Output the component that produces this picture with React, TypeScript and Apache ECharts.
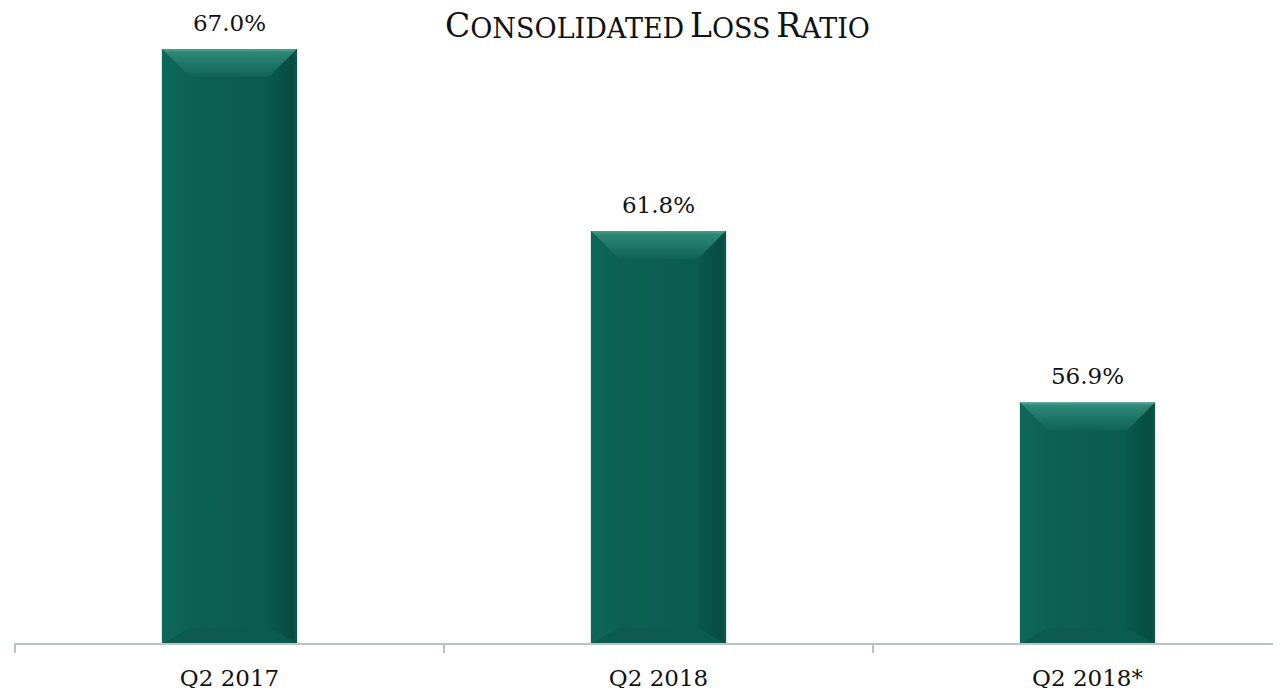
import React, { useEffect, useRef } from "react";
import * as echarts from "echarts";

const categories = ["Q2 2017", "Q2 2018", "Q2 2018*"];
const lossRatio = [67.0, 61.8, 56.9];
const yMin = 50;
const yMax = 68;

const FONT = "'DejaVu Serif', 'Liberation Serif', serif";

export default function App() {
  const ref = useRef<HTMLDivElement>(null);
  useEffect(() => {
    if (!ref.current) return;
    const chart = echarts.init(ref.current, undefined, { renderer: "svg" });
    const option: any = {
      animation: false,
      backgroundColor: "#ffffff",
      title: {
        left: 440,
        top: -1,
        text: "{b|C}{s|ONSOLIDATED} {b|L}{s|OSS} {b|R}{s|ATIO}",
        textStyle: {
          fontFamily: FONT,
          fontWeight: "normal",
          color: "#111111",
          rich: {
            b: { fontSize: 33, fontFamily: FONT, color: "#111111", verticalAlign: "bottom", lineHeight: 38 },
            s: { fontSize: 27, fontFamily: FONT, color: "#111111", verticalAlign: "bottom", lineHeight: 38 },
          },
        },
      },
      grid: { left: 15, right: 8, top: 14, bottom: 52, containLabel: false },
      xAxis: {
        type: "category",
        data: categories,
        boundaryGap: true,
        axisLine: { show: true, lineStyle: { color: "#b9c5c1", width: 2 } },
        axisTick: { show: true, length: 9, lineStyle: { color: "#b9c5c1", width: 2 } },
        axisLabel: { fontFamily: FONT, fontSize: 23, color: "#111111", margin: 22 },
        z: 10,
      },
      yAxis: {
        type: "value",
        min: yMin,
        max: yMax,
        show: false,
        splitLine: { show: false },
      },
      series: [
        {
          type: "custom",
          data: lossRatio.map((v, i) => [i, v]),
          encode: { x: 0, y: 1 },
          renderItem: (params: any, api: any) => {
            const idx = api.value(0);
            const val = api.value(1);
            const top = api.coord([idx, val]);
            const base = api.coord([idx, yMin]);
            const bw = api.size([1, 0])[0] * 0.315;
            const x0 = top[0] - bw / 2;
            const x1 = top[0] + bw / 2;
            const y0 = top[1];
            const y1 = base[1];
            const bt = 28;
            const bs = 28;
            const bb = 16;
            return {
              type: "group",
              children: [
                {
                  type: "rect",
                  shape: { x: x0, y: y0, width: bw, height: y1 - y0 },
                  style: {
                    fill: new echarts.graphic.LinearGradient(0, 0, 1, 0, [
                      { offset: 0, color: "#0c6354" },
                      { offset: 0.5, color: "#0b5e51" },
                      { offset: 1, color: "#0a584b" },
                    ]),
                  },
                },
                {
                  type: "polygon",
                  shape: { points: [[x0, y0], [x1, y0], [x1 - bs, y0 + bt], [x0 + bs, y0 + bt]] },
                  style: {
                    fill: new echarts.graphic.LinearGradient(0, 0, 0, 1, [
                      { offset: 0, color: "#4aa594" },
                      { offset: 0.12, color: "#2e8876" },
                      { offset: 1, color: "#0e6355" },
                    ]),
                  },
                },
                {
                  type: "polygon",
                  shape: { points: [[x0, y0], [x0 + bs, y0 + bt], [x0 + bs, y1 - bb], [x0, y1]] },
                  style: {
                    fill: new echarts.graphic.LinearGradient(0, 0, 1, 0, [
                      { offset: 0, color: "#0e6859" },
                      { offset: 1, color: "#0c6153" },
                    ]),
                  },
                },
                {
                  type: "polygon",
                  shape: { points: [[x1, y0], [x1 - bs, y0 + bt], [x1 - bs, y1 - bb], [x1, y1]] },
                  style: {
                    fill: new echarts.graphic.LinearGradient(0, 0, 1, 0, [
                      { offset: 0, color: "#0a584c" },
                      { offset: 0.85, color: "#074c41" },
                      { offset: 1, color: "#0a5a4d" },
                    ]),
                  },
                },
                {
                  type: "polygon",
                  shape: { points: [[x0, y1], [x0 + bs, y1 - bb], [x1 - bs, y1 - bb], [x1, y1]] },
                  style: { fill: "#0b5b4e" },
                },
                {
                  type: "text",
                  x: top[0],
                  y: y0 - 15,
                  style: {
                    text: val.toFixed(1) + "%",
                    fontFamily: FONT,
                    fontSize: 23,
                    fill: "#111111",
                    align: "center",
                    verticalAlign: "bottom",
                  },
                },
              ],
            };
          },
        },
      ],
    };
    chart.setOption(option);
    return () => chart.dispose();
  }, []);
  return (
    <div style={{ width: 1281, height: 696, margin: -8, overflow: "hidden", position: "relative" }}>
      <div ref={ref} style={{ width: 1310, height: 696 }} />
    </div>
  );
}
